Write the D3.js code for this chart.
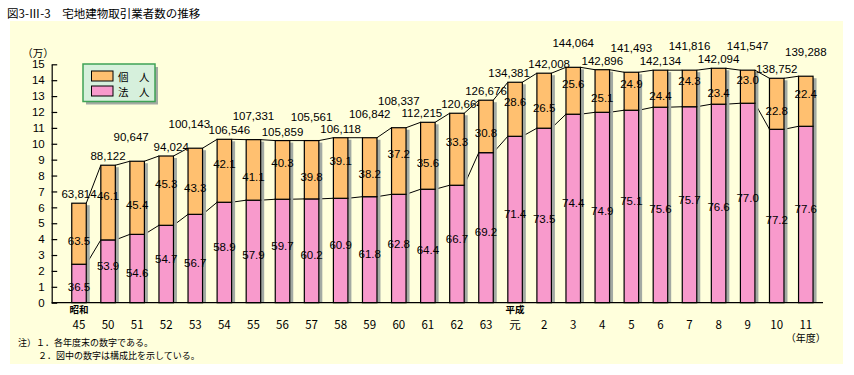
<!DOCTYPE html>
<html>
<head>
<meta charset="utf-8">
<script src="https://cdn.jsdelivr.net/npm/d3@7"></script>
<style>
  body { margin: 0; background: #fff; }
  svg text { font-family: "Liberation Sans", "Noto Sans CJK JP", sans-serif; fill: #000; }
  .jp { font-family: "Noto Sans CJK JP", sans-serif; }
</style>
</head>
<body>
<div id="chart"></div>
<script>
//////////////////////////
// data
//////////////////////////
var years = ["45","50","51","52","53","54","55","56","57","58","59","60","61","62","63",
             "元","2","3","4","5","6","7","8","9","10","11"];
var eras = [{at: "45", name: "昭和"}, {at: "元", name: "平成"}];

// 業者数 (total, labels above bars)
var totals = [63814, 88122, 90647, 94024, 100143, 106546, 107331, 105859, 105561, 106118, 106842,
              108337, 112215, 120664, 126676, 134381, 142008, 144064, 142896, 141493, 142134,
              141816, 142094, 141547, 138752, 139288];
// 構成比 (%)
var houjinPct = [36.5, 53.9, 54.6, 54.7, 56.7, 58.9, 57.9, 59.7, 60.2, 60.9, 61.8, 62.8, 64.4, 66.7,
                 69.2, 71.4, 73.5, 74.4, 74.9, 75.1, 75.6, 75.7, 76.6, 77.0, 77.2, 77.6];
var kojinPct = [63.5, 46.1, 45.4, 45.3, 43.3, 42.1, 41.1, 40.3, 39.8, 39.1, 38.2, 37.2, 35.6, 33.3,
                30.8, 28.6, 26.5, 25.6, 25.1, 24.9, 24.4, 24.3, 23.4, 23.0, 22.8, 22.4];
// segment heights as drawn in the figure (万)
var houjinBar = [2.42, 3.95, 4.30, 4.87, 5.56, 6.32, 6.45, 6.51, 6.53, 6.57, 6.67, 6.82, 7.14, 7.39,
                 9.44, 10.47, 10.98, 11.86, 11.98, 12.11, 12.30, 12.33, 12.49, 12.55, 10.91, 11.10];
var kojinBar = [3.84, 4.70, 4.60, 4.36, 4.16, 3.96, 3.81, 3.69, 3.67, 3.81, 3.71, 4.19, 4.21, 4.53,
                3.30, 3.40, 3.46, 2.95, 2.68, 2.39, 2.33, 2.30, 2.26, 2.08, 3.21, 3.15];
var yTicks = d3.range(0, 16);

//////////////////////////
// setup
//////////////////////////
var width = 854, height = 375,
    barW = 14.5, shadowW = 3.5;

var colors = {bg: "#FFFFDC", kojin: "#FFC070", houjin: "#F89ACC", shadow: "#A3AAA3"};

var svg = d3.select("#chart").append("svg")
  .attr("width", width)
  .attr("height", height);

// scales
var x = d3.scalePoint()
  .domain(years)
  .range([79, 805.8]);
var y = d3.scaleLinear()
  .domain([0, 15])
  .range([302.7, 64.3]);

var rows = years.map(function(d, i) {
  return {year: d, i: i, h: houjinBar[i], top: houjinBar[i] + kojinBar[i]};
});

// title
svg.append("text")
  .attr("class", "jp")
  .attr("x", 7)
  .attr("y", 13)
  .attr("dominant-baseline", "central")
  .style("font-size", "11.5px")
  .text("図3-Ⅲ-3　宅地建物取引業者数の推移");

// panel
svg.append("rect")
  .attr("x", 10)
  .attr("y", 21)
  .attr("width", 833)
  .attr("height", 343)
  .attr("fill", colors.bg);

// y axis
var yAxis = svg.append("g")
  .attr("transform", "translate(51.7,0)")
  .call(d3.axisLeft(y).tickValues(yTicks).tickSizeInner(-5.5).tickSizeOuter(0).tickPadding(7));
yAxis.selectAll("text")
  .style("font-size", "11.5px")
  .style("font-family", "Liberation Sans, sans-serif");
yAxis.selectAll("line, path").attr("stroke", "#000").attr("stroke-width", 1.2);

svg.append("text")
  .attr("class", "jp")
  .attr("x", 38)
  .attr("y", 52)
  .attr("text-anchor", "middle")
  .attr("dominant-baseline", "central")
  .style("font-size", "10.5px")
  .text("（万）");

//////////////////////////
// connecting lines
//////////////////////////
var links = rows.slice(1).map(function(d, k) { return [rows[k], d]; });
function linkPath(key) {
  return function(p) {
    return "M" + (x(p[0].year) + barW / 2) + "," + y(p[0][key]) +
           "L" + (x(p[1].year) - barW / 2) + "," + y(p[1][key]);
  };
}
svg.selectAll("path.link-top")
  .data(links)
  .enter().append("path")
  .attr("class", "link-top")
  .attr("d", linkPath("top"))
  .attr("stroke", "#000")
  .attr("fill", "none");
svg.selectAll("path.link-mid")
  .data(links)
  .enter().append("path")
  .attr("class", "link-mid")
  .attr("d", linkPath("h"))
  .attr("stroke", "#000")
  .attr("fill", "none");

//////////////////////////
// bars
//////////////////////////
var bars = svg.selectAll("g.bar")
  .data(rows)
  .enter().append("g")
  .attr("class", "bar");

// shadow
bars.append("rect")
  .attr("x", function(d) { return x(d.year) + barW / 2; })
  .attr("y", function(d) { return y(d.top) + 2; })
  .attr("width", shadowW)
  .attr("height", function(d) { return y(0) - y(d.top) - 2; })
  .attr("fill", colors.shadow);

// 法人
bars.append("rect")
  .attr("x", function(d) { return x(d.year) - barW / 2; })
  .attr("y", function(d) { return y(d.h); })
  .attr("width", barW)
  .attr("height", function(d) { return y(0) - y(d.h); })
  .attr("fill", colors.houjin)
  .attr("stroke", "#000")
  .attr("stroke-width", 1.2);

// 個人
bars.append("rect")
  .attr("x", function(d) { return x(d.year) - barW / 2; })
  .attr("y", function(d) { return y(d.top); })
  .attr("width", barW)
  .attr("height", function(d) { return y(d.h) - y(d.top); })
  .attr("fill", colors.kojin)
  .attr("stroke", "#000")
  .attr("stroke-width", 1.2);

// percentage labels
bars.append("text")
  .attr("x", function(d) { return x(d.year); })
  .attr("y", function(d) { return (y(0) + y(d.h)) / 2 + (d.i % 2 ? -5 : 4); })
  .attr("text-anchor", "middle")
  .attr("dominant-baseline", "central")
  .style("font-size", "11.5px")
  .text(function(d) { return houjinPct[d.i].toFixed(1); });
bars.append("text")
  .attr("x", function(d) { return x(d.year); })
  .attr("y", function(d) { return (y(d.h) + y(d.top)) / 2 + (d.i % 2 ? -7 : 7); })
  .attr("text-anchor", "middle")
  .attr("dominant-baseline", "central")
  .style("font-size", "11.5px")
  .text(function(d) { return kojinPct[d.i].toFixed(1); });

// total labels, raised when they would collide with the previous one
var prevY = null, prevRaised = false;
rows.forEach(function(d) {
  var ly = y(d.top) - 9;
  var raised = false;
  if (prevY !== null) {
    if (!prevRaised && Math.abs(ly - prevY) < 9) {
      ly = y(d.top) - 24;
      raised = true;
    } else if (prevRaised && Math.abs(ly - prevY) < 6) {
      ly = prevY - 13;
      raised = true;
    }
  }
  d.labelY = ly;
  d.labelDx = 0;
  prevY = ly;
  prevRaised = raised;
});
// nudge apart labels still sitting at nearly the same height
rows.forEach(function(d, i) {
  if (i > 0 && Math.abs(d.labelY - rows[i - 1].labelY) < 11) {
    rows[i - 1].labelDx -= 6;
    d.labelDx += 5;
  }
});
bars.append("text")
  .attr("x", function(d) { return x(d.year) + d.labelDx; })
  .attr("y", function(d) { return d.labelY; })
  .attr("text-anchor", "middle")
  .attr("dominant-baseline", "central")
  .style("font-size", "11.5px")
  .text(function(d) { return d3.format(",")(totals[d.i]); });

// x axis line
svg.append("line")
  .attr("x1", 51.7)
  .attr("x2", 823)
  .attr("y1", y(0))
  .attr("y2", y(0))
  .attr("stroke", "#000")
  .attr("stroke-width", 1.2);

// category labels
svg.selectAll("text.cat")
  .data(years)
  .enter().append("text")
  .attr("class", "cat jp")
  .attr("x", function(d) { return x(d); })
  .attr("y", 323.5)
  .attr("text-anchor", "middle")
  .attr("dominant-baseline", "central")
  .style("font-size", "11.5px")
  .text(function(d) { return d; });
svg.selectAll("text.era")
  .data(eras)
  .enter().append("text")
  .attr("class", "era jp")
  .attr("x", function(d) { return x(d.at); })
  .attr("y", 309)
  .attr("text-anchor", "middle")
  .attr("dominant-baseline", "central")
  .style("font-size", "9.5px")
  .style("font-weight", "bold")
  .text(function(d) { return d.name; });
svg.append("text")
  .attr("class", "jp")
  .attr("x", x("11"))
  .attr("y", 337.5)
  .attr("text-anchor", "middle")
  .attr("dominant-baseline", "central")
  .style("font-size", "10px")
  .text("（年度）");

//////////////////////////
// legend
//////////////////////////
var legend = svg.append("g").attr("transform", "translate(83,64)");
legend.append("rect")
  .attr("x", 3).attr("y", 3)
  .attr("width", 72).attr("height", 37.5)
  .attr("fill", colors.shadow);
legend.append("rect")
  .attr("width", 72).attr("height", 37.5)
  .attr("fill", "#D6F0DC")
  .attr("stroke", "#3FA355")
  .attr("stroke-width", 1.5);
var items = legend.selectAll("g.item")
  .data([{name: "個　人", c: colors.kojin}, {name: "法　人", c: colors.houjin}])
  .enter().append("g")
  .attr("transform", function(d, i) { return "translate(0," + (i * 15) + ")"; });
items.append("rect")
  .attr("x", 8.5).attr("y", 7)
  .attr("width", 21.5).attr("height", 10)
  .attr("fill", function(d) { return d.c; })
  .attr("stroke", "#000");
items.append("text")
  .attr("class", "jp")
  .attr("x", 35)
  .attr("y", 12)
  .attr("dominant-baseline", "central")
  .style("font-size", "10.5px")
  .text(function(d) { return d.name; });

//////////////////////////
// notes
//////////////////////////
svg.append("text")
  .attr("class", "jp")
  .attr("x", 18).attr("y", 342)
  .attr("dominant-baseline", "central")
  .style("font-size", "9px")
  .text("注）１．各年度末の数字である。");
svg.append("text")
  .attr("class", "jp")
  .attr("x", 38).attr("y", 355)
  .attr("dominant-baseline", "central")
  .style("font-size", "9px")
  .text("２．図中の数字は構成比を示している。");
</script>
</body>
</html>
